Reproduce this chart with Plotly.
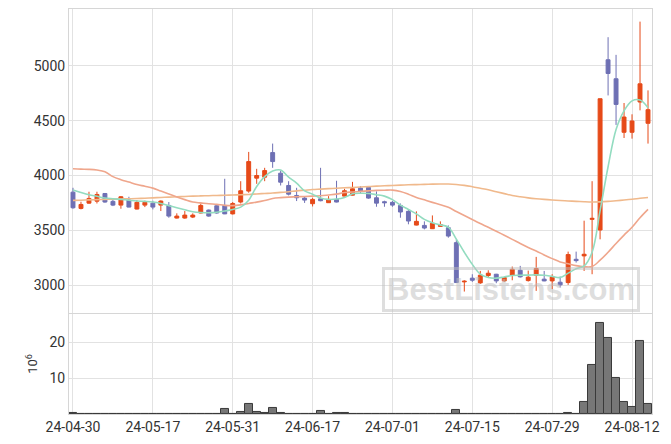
import plotly.graph_objects as go

dates = ["24-04-30","24-05-02","24-05-03","24-05-07","24-05-08","24-05-09","24-05-10","24-05-13","24-05-14","24-05-16",
         "24-05-17","24-05-20","24-05-21","24-05-22","24-05-23","24-05-24","24-05-27","24-05-28","24-05-29","24-05-30",
         "24-05-31","24-06-03","24-06-04","24-06-05","24-06-07","24-06-10","24-06-11","24-06-12","24-06-13","24-06-14",
         "24-06-17","24-06-18","24-06-19","24-06-20","24-06-21","24-06-24","24-06-25","24-06-26","24-06-27","24-06-28",
         "24-07-01","24-07-02","24-07-03","24-07-04","24-07-05","24-07-08","24-07-09","24-07-10","24-07-11","24-07-12",
         "24-07-15","24-07-16","24-07-17","24-07-18","24-07-19","24-07-22","24-07-23","24-07-24","24-07-25","24-07-26",
         "24-07-29","24-07-30","24-07-31","24-08-01","24-08-02","24-08-05","24-08-06","24-08-07","24-08-08","24-08-09",
         "24-08-12","24-08-13","24-08-14"]

open_ = [3848,3700,3748,3766,3836,3764,3730,3776,3694,3730,
         3748,3730,3727,3612,3612,3621,3658,3685,3724,3727,
         3650,3758,3858,3976,3985,4209,4021,3909,3818,3794,
         3743,3788,3752,3782,3812,3821,3885,3891,3797,3761,
         3755,3727,3673,3548,3545,3515,3536,3524,3388,3030,
         3064,3021,3088,3100,3039,3091,3136,3042,3091,3055,
         3039,3027,3024,3236,3267,3600,3503,5055,4882,4394,
         4394,4670,4476]
high = [3888,3761,3852,3852,3840,3794,3812,3806,3776,3770,
        3770,3773,3758,3655,3676,3655,3745,3690,3733,3970,
        3758,3948,4215,4061,4070,4291,4045,3948,3888,3812,
        3797,4070,3812,3952,3879,3942,3903,3903,3855,3770,
        3767,3745,3685,3673,3582,3636,3582,3545,3418,3045,
        3100,3130,3136,3103,3076,3170,3176,3133,3258,3130,
        3100,3079,3306,3306,3588,3948,4700,5261,5100,4661,
        4558,5403,4776]
low = [3697,3691,3743,3745,3752,3721,3697,3710,3691,3712,
       3691,3676,3615,3608,3606,3612,3655,3624,3652,3648,
       3645,3745,3843,3924,3948,4070,3909,3818,3767,3750,
       3718,3765,3750,3755,3810,3818,3834,3788,3715,3715,
       3715,3615,3555,3545,3509,3512,3533,3433,3020,2942,
       3030,3012,3070,3018,3030,3045,3070,3033,2948,3036,
       2964,2979,3003,3206,3130,3100,3418,4730,4461,4342,
       4336,4594,4291]
close = [3706,3736,3791,3827,3758,3730,3806,3712,3755,3755,
         3712,3767,3630,3630,3639,3639,3727,3630,3658,3650,
         3745,3861,4127,4000,4045,4127,3939,3830,3797,3776,
         3782,3770,3782,3758,3861,3879,3855,3794,3748,3752,
         3730,3667,3585,3582,3521,3564,3552,3448,3024,3036,
         3045,3091,3109,3039,3070,3145,3076,3073,3152,3039,
         3076,3003,3279,3224,3282,3609,4700,4930,4648,4533,
         4497,4836,4600]

ma5 = [3867,3845,3825,3810,3795,3788,3782,3775,3768,3764,
       3758,3745,3725,3706,3688,3670,3662,3660,3665,3676,
       3690,3712,3775,3900,3990,4040,4050,3985,3930,3860,
       3830,3795,3782,3785,3800,3833,3838,3836,3825,3812,
       3780,3730,3690,3650,3600,3570,3550,3530,3420,3300,
       3190,3100,3070,3064,3075,3088,3091,3092,3094,3090,
       3080,3070,3110,3150,3175,3300,3680,4080,4420,4590,
       4680,4688,4618]
ma20 = [4061,4058,4056,4050,4035,3990,3962,3940,3918,3902,
        3885,3858,3832,3805,3780,3758,3750,3742,3737,3728,
        3725,3732,3745,3757,3772,3790,3798,3803,3806,3809,
        3812,3815,3822,3830,3845,3850,3855,3860,3864,3866,
        3867,3855,3830,3800,3778,3755,3733,3710,3672,3635,
        3598,3562,3528,3492,3455,3418,3380,3344,3312,3276,
        3242,3212,3195,3178,3168,3170,3228,3300,3380,3456,
        3528,3615,3691]
ma60 = [3773,3775,3778,3780,3782,3784,3786,3788,3790,3793,
        3796,3800,3803,3806,3809,3812,3814,3816,3818,3820,
        3822,3825,3827,3832,3836,3840,3846,3852,3860,3866,
        3872,3876,3880,3884,3888,3891,3895,3899,3903,3906,
        3909,3912,3915,3917,3919,3921,3922,3922,3918,3910,
        3898,3884,3870,3852,3835,3818,3806,3796,3788,3782,
        3777,3772,3768,3764,3761,3759,3760,3764,3770,3776,
        3783,3792,3800]

volume_m = [0.3,0.15,0.15,0.15,0,0,0.1,0,0,0,
            0,0,0.1,0,0,0,0.1,0,0,1.4,
            0,0.55,2.8,0.55,0.35,1.65,0.3,0.1,0.1,0,
            0,0.85,0,0.3,0.3,0.1,0,0.1,0.1,0,
            0,0,0,0,0,0,0,0,1.2,0.15,
            0.15,0.1,0,0,0,0.1,0,0,0.1,0,
            0,0,0.35,0,3.4,13.7,25.3,21.1,10.1,3.4,
            1.9,20.4,2.8]

tick_idx = [0, 10, 20, 30, 40, 50, 60, 70]
tick_labels = [dates[i] for i in tick_idx]

UP = "#E64A19"
DN = "#6E70B4"
GRID = "#e2e2e2"
FONT = "Roboto"

fig = go.Figure()
fig.add_trace(go.Candlestick(
    x=dates, open=open_, high=high, low=low, close=close,
    increasing=dict(line=dict(color=UP, width=1), fillcolor=UP),
    decreasing=dict(line=dict(color=DN, width=1), fillcolor=DN),
    whiskerwidth=0, xaxis="x2", yaxis="y2", showlegend=False))
fig.add_trace(go.Scatter(x=dates, y=ma60, mode="lines", line=dict(color="#f0b98c", width=1.6, shape="spline"),
                         xaxis="x2", yaxis="y2", showlegend=False))
fig.add_trace(go.Scatter(x=dates, y=ma20, mode="lines", line=dict(color="#efa68c", width=1.6, shape="spline"),
                         xaxis="x2", yaxis="y2", showlegend=False))
fig.add_trace(go.Scatter(x=dates, y=ma5, mode="lines", line=dict(color="#93dcc0", width=1.6, shape="spline"),
                         xaxis="x2", yaxis="y2", showlegend=False))
fig.add_trace(go.Bar(x=dates, y=volume_m, marker=dict(color="#777777", line=dict(color="#3a3a3a", width=1)),
                     xaxis="x", yaxis="y", showlegend=False))

common_x = dict(type="category", range=[-0.5, 72.5], tickmode="array", tickvals=tick_labels,
                ticktext=tick_labels, showgrid=True, gridcolor=GRID, gridwidth=1,
                showline=True, linecolor="#d6d6d6", mirror=True, zeroline=False,
                rangeslider=dict(visible=False), ticks="", tickfont=dict(family=FONT, size=14, color="#333"))

fig.update_layout(
    width=671, height=444,
    margin=dict(l=69, r=19, t=9, b=30),
    paper_bgcolor="white", plot_bgcolor="white",
    bargap=0,
    xaxis=dict(domain=[0, 1], anchor="y", **common_x),
    xaxis2=dict(domain=[0, 1], anchor="y2", matches="x", showticklabels=False,
                **{k: v for k, v in common_x.items() if k != "tickfont"}),
    yaxis=dict(domain=[0, 0.247], range=[0, 27.9], tickvals=[10, 20], showgrid=True, gridcolor=GRID,
               showline=True, linecolor="#d6d6d6", mirror=True, zeroline=False, ticks="",
               tickfont=dict(family=FONT, size=14, color="#333"),
               title=dict(text="10<sup>6</sup>", font=dict(family=FONT, size=13, color="#333"), standoff=8)),
    yaxis2=dict(domain=[0.249, 1], range=[2745, 5518], tickvals=[3000, 3500, 4000, 4500, 5000],
                showgrid=True, gridcolor=GRID, showline=True, linecolor="#d6d6d6", mirror=True,
                zeroline=False, ticks="", tickfont=dict(family=FONT, size=14, color="#333")),
    annotations=[dict(text="<b>BestListens.com</b>", xref="paper", yref="paper", x=0.7585, y=0.307,
                      xanchor="center", yanchor="middle", showarrow=False,
                      font=dict(family="Liberation Sans", size=31, color="rgba(190,190,190,0.5)"),
                      bordercolor="rgba(190,190,190,0.5)", borderwidth=3, borderpad=2)],
)

fig.write_html("out.html", config={"displayModeBar": False},
               post_script="document.body.style.margin='0';document.body.style.overflow='hidden';")
